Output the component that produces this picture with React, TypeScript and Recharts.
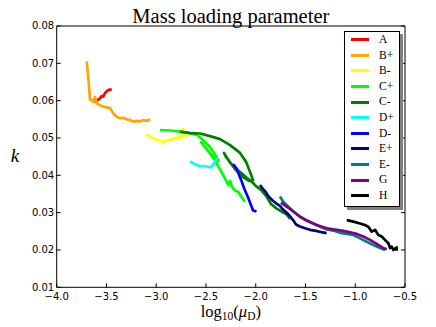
import React from "react"
import { LineChart, Line, XAxis, YAxis, Legend } from "recharts"

const xTicks = [-4, -3.5, -3, -2.5, -2, -1.5, -1, -0.5]
const yTicks = [0.01, 0.02, 0.03, 0.04, 0.05, 0.06, 0.07, 0.08]

// [log10(mu_D), k] pairs
const runA = [[-3.632, 0.0597], [-3.598, 0.06], [-3.565, 0.0606], [-3.548, 0.0612], [-3.532, 0.0611], [-3.515, 0.062], [-3.491, 0.0627], [-3.464, 0.063], [-3.447, 0.0629]]
const runBplus = [[-3.698, 0.0705], [-3.68, 0.0655], [-3.665, 0.0602], [-3.648, 0.0602], [-3.632, 0.0597], [-3.615, 0.061], [-3.598, 0.0593], [-3.565, 0.0588], [-3.532, 0.0584], [-3.497, 0.0582], [-3.464, 0.058], [-3.431, 0.0566], [-3.397, 0.0557], [-3.364, 0.0553], [-3.331, 0.0554], [-3.296, 0.055], [-3.263, 0.0548], [-3.23, 0.0544], [-3.196, 0.0546], [-3.163, 0.0544], [-3.13, 0.0548], [-3.095, 0.0546], [-3.062, 0.055]]
const runBminus = [[-3.106, 0.051], [-3.062, 0.0503], [-2.995, 0.0495], [-2.929, 0.049], [-2.861, 0.0495], [-2.794, 0.0501], [-2.744, 0.0501], [-2.731, 0.0524], [-2.711, 0.0511], [-2.693, 0.0499]]
const runCplus = [[-2.962, 0.0521], [-2.861, 0.052], [-2.761, 0.0517], [-2.66, 0.0513], [-2.59, 0.0508], [-2.54, 0.0497], [-2.489, 0.0484], [-2.439, 0.0468], [-2.399, 0.0452], [-2.374, 0.0438], [-2.409, 0.0446], [-2.459, 0.046], [-2.51, 0.0476], [-2.55, 0.0489], [-2.52, 0.0479], [-2.469, 0.0462], [-2.419, 0.0444], [-2.379, 0.0425], [-2.344, 0.0409], [-2.309, 0.0391], [-2.273, 0.0374], [-2.258, 0.0385], [-2.238, 0.0369], [-2.208, 0.0359], [-2.173, 0.0355], [-2.143, 0.0342], [-2.108, 0.0329]]
const runCminus = [[-2.761, 0.0517], [-2.66, 0.0513], [-2.56, 0.0512], [-2.459, 0.0505], [-2.359, 0.0497], [-2.258, 0.0481], [-2.158, 0.046], [-2.097, 0.0436], [-2.057, 0.0409], [-2.027, 0.0387], [-2.067, 0.0385], [-2.128, 0.0395], [-2.198, 0.0414], [-2.268, 0.0438], [-2.319, 0.046], [-2.298, 0.0449], [-2.238, 0.0428], [-2.158, 0.0409], [-2.087, 0.0393], [-2.037, 0.0382], [-1.997, 0.0371], [-1.947, 0.0361], [-1.896, 0.0345], [-1.846, 0.0323], [-1.796, 0.0312], [-1.736, 0.0302], [-1.685, 0.0294], [-1.655, 0.0283]]
const runDplus = [[-2.66, 0.0437], [-2.61, 0.043], [-2.56, 0.0424], [-2.51, 0.0425], [-2.459, 0.0421], [-2.429, 0.0428], [-2.409, 0.0437], [-2.389, 0.0446]]
const runDminus = [[-2.228, 0.043], [-2.198, 0.042], [-2.173, 0.0405], [-2.143, 0.0385], [-2.118, 0.0366], [-2.092, 0.035], [-2.072, 0.0337], [-2.047, 0.032], [-2.027, 0.0306], [-1.992, 0.0303]]
const runEplus = [[-1.957, 0.0374], [-1.927, 0.0363], [-1.907, 0.0358], [-1.876, 0.0345], [-1.836, 0.0334], [-1.796, 0.0325], [-1.756, 0.0318], [-1.726, 0.0308], [-1.685, 0.0299], [-1.655, 0.029], [-1.625, 0.028], [-1.595, 0.0268], [-1.555, 0.0263], [-1.505, 0.0258], [-1.454, 0.0254], [-1.394, 0.0251], [-1.344, 0.0248], [-1.288, 0.0245]]
const runEminus = [[-1.756, 0.0343], [-1.723, 0.0329], [-1.672, 0.0316], [-1.622, 0.0303], [-1.555, 0.0289], [-1.487, 0.028], [-1.421, 0.0271], [-1.354, 0.0262], [-1.286, 0.0255], [-1.22, 0.0252], [-1.153, 0.0246], [-1.085, 0.0243], [-1.019, 0.024], [-0.952, 0.0231], [-0.884, 0.0222], [-0.818, 0.0213], [-0.751, 0.0205], [-0.701, 0.02]]
const runG = [[-1.746, 0.0327], [-1.688, 0.0316], [-1.622, 0.0303], [-1.555, 0.0289], [-1.487, 0.0278], [-1.387, 0.0267], [-1.286, 0.0258], [-1.186, 0.0254], [-1.12, 0.0251], [-1.052, 0.0247], [-0.985, 0.0243], [-0.919, 0.0236], [-0.851, 0.0227], [-0.784, 0.0216], [-0.718, 0.0205], [-0.683, 0.0202]]
const runH = [[-1.085, 0.028], [-1.019, 0.0276], [-0.952, 0.0271], [-0.902, 0.0267], [-0.868, 0.0262], [-0.834, 0.0249], [-0.801, 0.0254], [-0.768, 0.024], [-0.734, 0.0236], [-0.701, 0.0227], [-0.667, 0.0218], [-0.65, 0.0205], [-0.633, 0.0209], [-0.617, 0.02], [-0.583, 0.0207], [-0.583, 0.0198]]

const runs = [
  { name: "A", color: "#ff0000", points: runA },
  { name: "B+", color: "#ffa500", points: runBplus },
  { name: "B-", color: "#ffff00", points: runBminus },
  { name: "C+", color: "#00ff00", points: runCplus },
  { name: "C-", color: "#008000", points: runCminus },
  { name: "D+", color: "#00ffff", points: runDplus },
  { name: "D-", color: "#0000ff", points: runDminus },
  { name: "E+", color: "#000080", points: runEplus },
  { name: "E-", color: "#008080", points: runEminus },
  { name: "G", color: "#800080", points: runG },
  { name: "H", color: "#000000", points: runH },
]

const sans = "DejaVu Sans, sans-serif"
const serif = "Liberation Serif, serif"
const minus = (s: string) => s.replace("-", "\u2212")

// matplotlib style: ticks point into the plot
function BottomTick({ x, y, payload }: any) {
  return (
    <g>
      <line x1={x} y1={y} x2={x} y2={y - 4} stroke="#000" />
      <text x={x} y={y + 12.5} textAnchor="middle" fontFamily={sans} fontSize={10} fill="#000">
        {minus(payload.value.toFixed(1))}
      </text>
    </g>
  )
}

function TopTick({ x, y }: any) {
  return <line x1={x} y1={y} x2={x} y2={y + 4} stroke="#000" />
}

function LeftTick({ x, y, payload }: any) {
  return (
    <g>
      <line x1={x} y1={y} x2={x + 4} y2={y} stroke="#000" />
      <text x={x - 2.5} y={y + 3.4} textAnchor="end" fontFamily={sans} fontSize={10} fill="#000">
        {payload.value.toFixed(2)}
      </text>
    </g>
  )
}

function RightTick({ x, y }: any) {
  return <line x1={x} y1={y} x2={x - 4} y2={y} stroke="#000" />
}

function XTitle({ viewBox }: any) {
  return (
    <text x={viewBox.x + viewBox.width / 2} y={viewBox.y + 29.5} textAnchor="middle" fontFamily={serif} fontSize={16.5} fill="#000">
      log<tspan fontSize={11.5} dy={3.5}>10</tspan>
      <tspan dy={-3.5}>(</tspan>
      <tspan fontStyle="italic">μ</tspan>
      <tspan fontSize={11.5} dy={3}>D</tspan>
      <tspan dy={-3}>)</tspan>
    </text>
  )
}

function YTitle({ viewBox }: any) {
  return (
    <text x={viewBox.x + 15} y={viewBox.y + viewBox.height / 2 + 5} textAnchor="middle" fontFamily={serif} fontStyle="italic" fontSize={19} fill="#000">
      k
    </text>
  )
}

function PlotTitle({ viewBox }: any) {
  return (
    <text x={viewBox.x + viewBox.width / 2} y={viewBox.y + viewBox.height - 3.5} textAnchor="middle" fontFamily={serif} fontSize={20.5} fill="#000">
      Mass loading parameter
    </text>
  )
}

function LegendBox({ payload }: any) {
  return (
    <div style={{ background: "#fff", border: "1px solid #000", boxShadow: "3px 3px 0 #808080", paddingBottom: 2 }}>
      {(payload || []).map((entry: any) => (
        <div key={entry.value} style={{ display: "flex", alignItems: "center", height: 15.6 }}>
          <span style={{ display: "inline-block", width: 18, height: 3, marginLeft: 6, background: entry.color }} />
          <span style={{ marginLeft: 10, fontFamily: serif, fontSize: 11.5, color: "#000", lineHeight: 1 }}>{entry.value}</span>
        </div>
      ))}
    </div>
  )
}

export default function App() {
  return (
    <div style={{ position: "absolute", left: 0, top: 0, background: "#fff" }}>
      <LineChart width={436} height={327} margin={{ top: 25, right: 30, bottom: 0, left: 0 }}>
        <XAxis
          type="number"
          dataKey="x"
          domain={[-4, -0.5]}
          ticks={xTicks}
          interval={0}
          allowDataOverflow
          height={39.7}
          tickSize={0}
          tickMargin={0}
          tickLine={false}
          axisLine={{ stroke: "#000" }}
          tick={<BottomTick />}
          label={{ content: <XTitle /> }}
        />
        <XAxis
          xAxisId="top"
          orientation="top"
          type="number"
          domain={[-4, -0.5]}
          ticks={xTicks}
          interval={0}
          allowDataOverflow
          height={1}
          tickSize={0}
          tickMargin={0}
          tickLine={false}
          axisLine={{ stroke: "#000" }}
          tick={<TopTick />}
          label={{ content: <PlotTitle /> }}
        />
        <YAxis
          type="number"
          domain={[0.01, 0.08]}
          ticks={yTicks}
          interval={0}
          allowDataOverflow
          width={56.7}
          tickSize={0}
          tickMargin={0}
          tickLine={false}
          axisLine={{ stroke: "#000" }}
          tick={<LeftTick />}
          label={{ content: <YTitle /> }}
        />
        <YAxis
          yAxisId="right"
          orientation="right"
          type="number"
          domain={[0.01, 0.08]}
          ticks={yTicks}
          interval={0}
          allowDataOverflow
          width={1}
          tickSize={0}
          tickMargin={0}
          tickLine={false}
          axisLine={{ stroke: "#000" }}
          tick={<RightTick />}
        />
        <Legend
          layout="vertical"
          align="center"
          verticalAlign="middle"
          content={<LegendBox />}
          wrapperStyle={{ left: 344, top: 31, width: 56 }}
        />
        {runs.map((run) => (
          <Line
            key={run.name}
            name={run.name}
            data={run.points.map(([x, k]) => ({ x, k }))}
            dataKey="k"
            type="linear"
            stroke={run.color}
            strokeWidth={2.7}
            strokeLinejoin="round"
            dot={false}
            activeDot={false}
            isAnimationActive={false}
          />
        ))}
      </LineChart>
    </div>
  )
}
